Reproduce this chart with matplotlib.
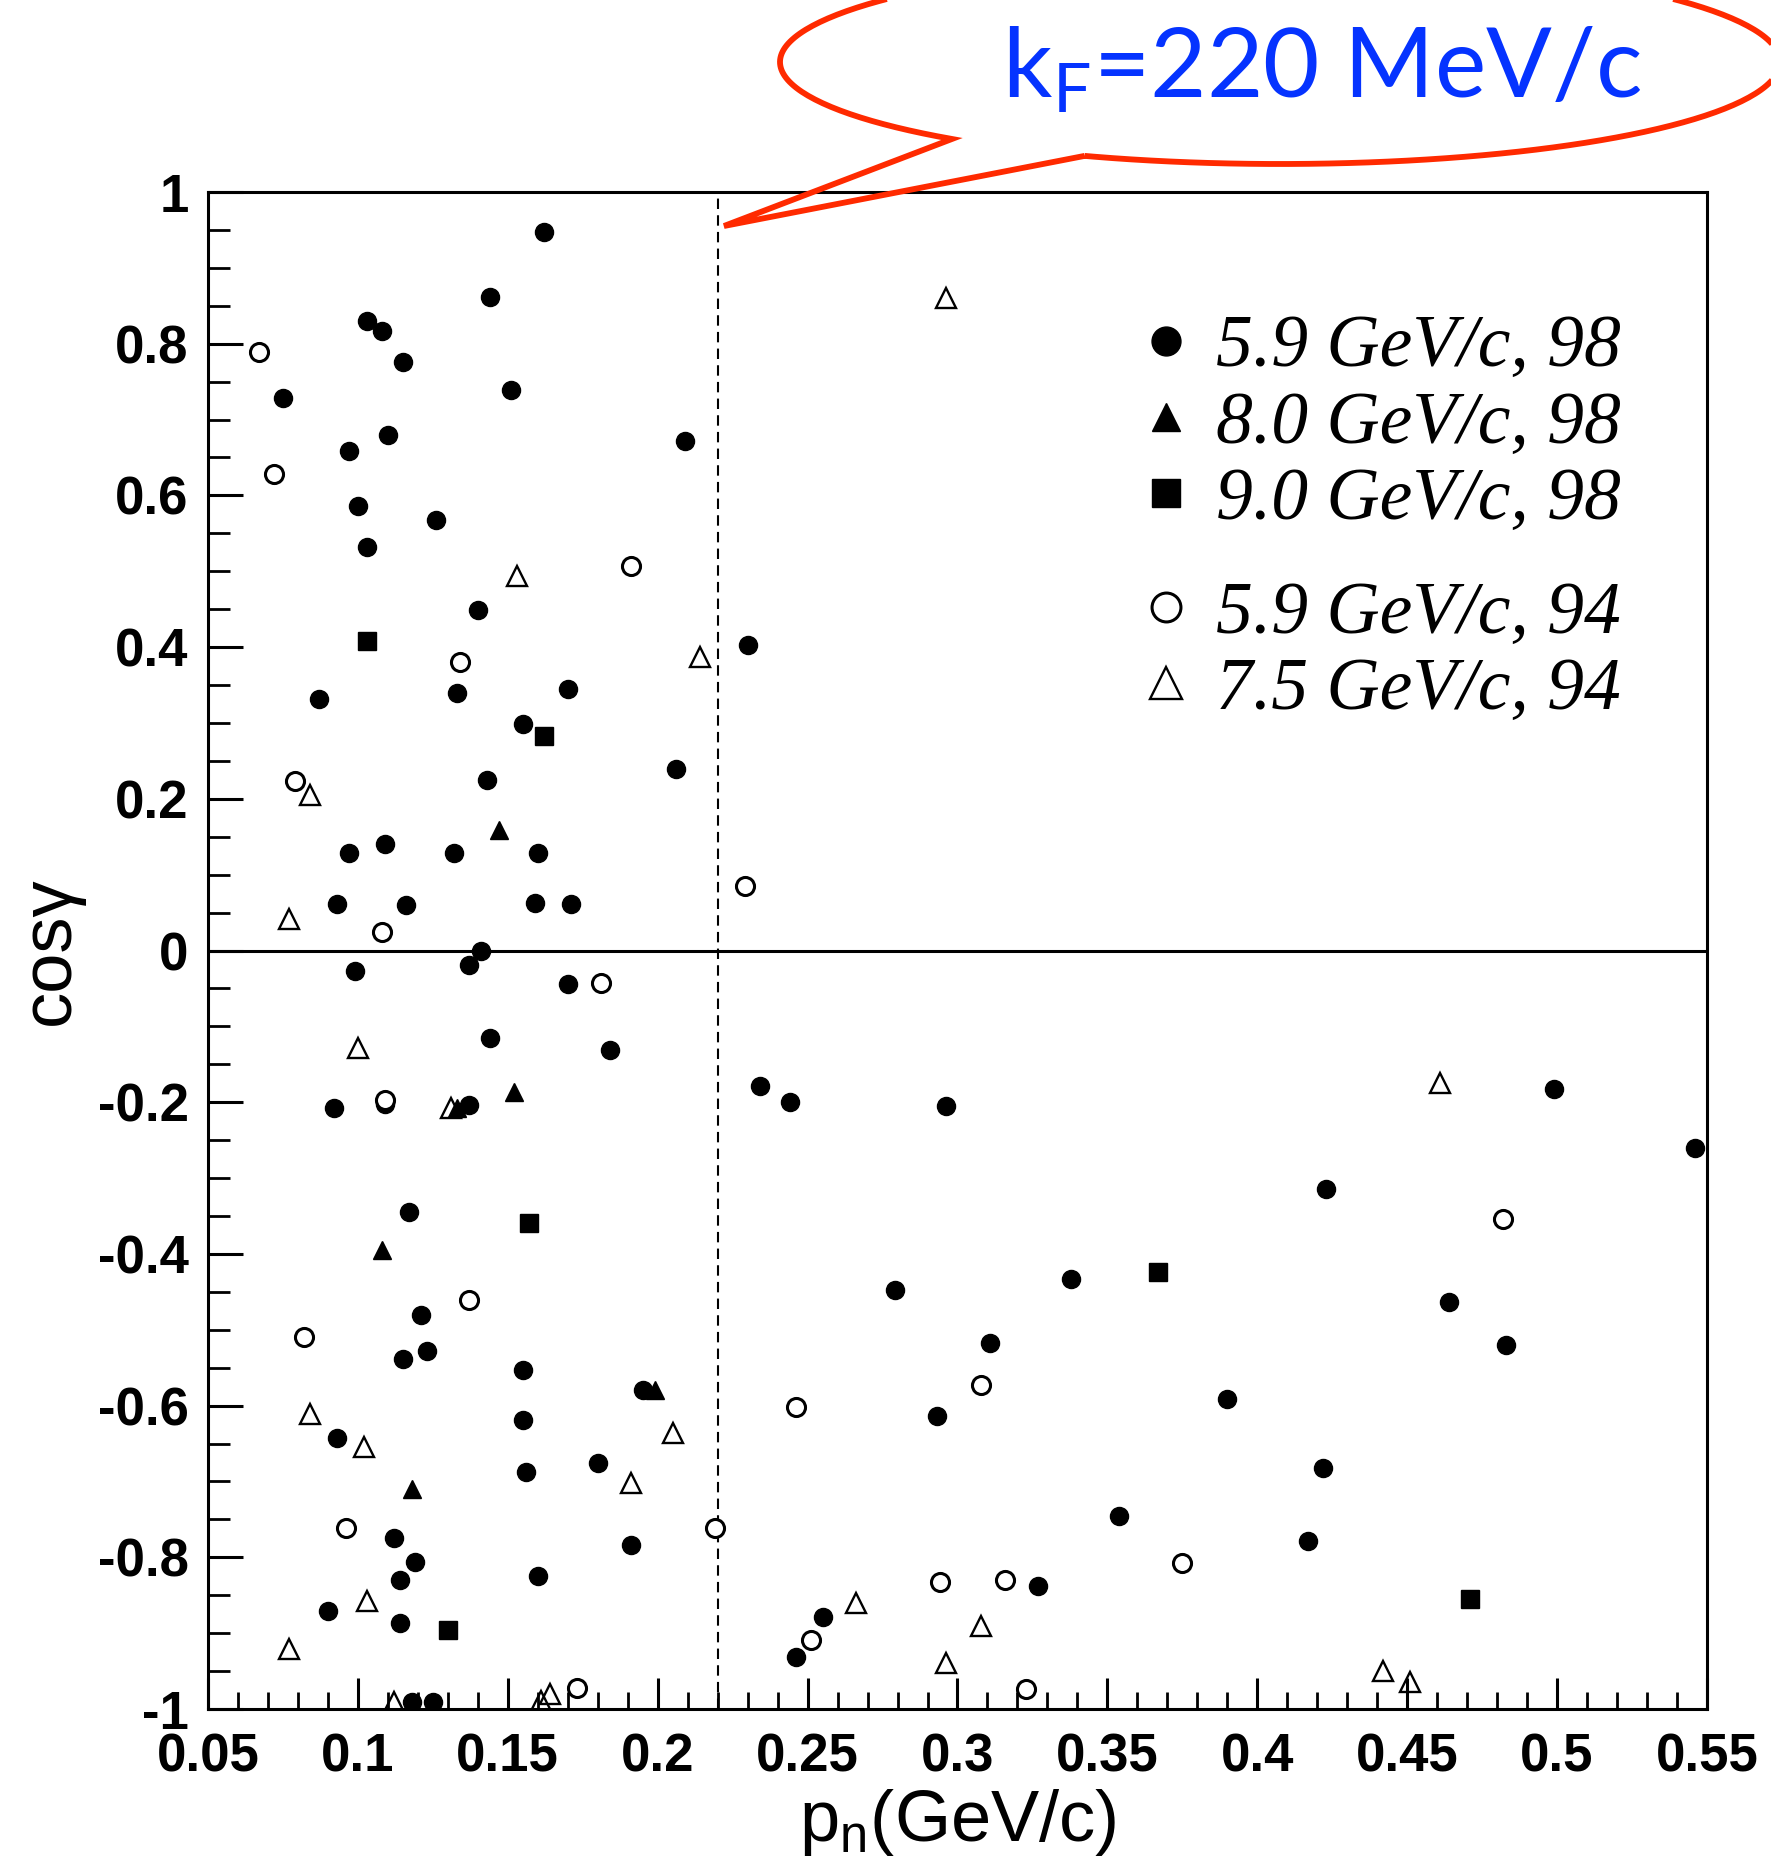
import numpy as np
import matplotlib
matplotlib.use("Agg")
import matplotlib.pyplot as plt
from matplotlib.path import Path
from matplotlib.patches import PathPatch
from matplotlib.font_manager import FontProperties

# ---------------- data ----------------
# 5.9 GeV/c, 98 (filled circles)
c98_x = [0.162, 0.144, 0.103, 0.108, 0.115, 0.151, 0.075, 0.097, 0.110, 0.209,
         0.100, 0.126, 0.103, 0.140, 0.230, 0.087, 0.133, 0.170, 0.155, 0.206,
         0.143, 0.097, 0.109, 0.132, 0.160, 0.093, 0.116, 0.159, 0.171, 0.141,
         0.137, 0.099, 0.170, 0.144, 0.184, 0.092, 0.109, 0.137, 0.234, 0.244,
         0.296, 0.499, 0.546, 0.423, 0.117, 0.338, 0.279, 0.464, 0.121, 0.311,
         0.483, 0.123, 0.115, 0.155, 0.195, 0.390, 0.155, 0.293, 0.093, 0.180,
         0.422, 0.156, 0.354, 0.112, 0.417, 0.191, 0.119, 0.114, 0.327, 0.160,
         0.090, 0.255, 0.114, 0.246, 0.118, 0.125]
c98_y = [0.947, 0.861, 0.830, 0.817, 0.776, 0.739, 0.728, 0.658, 0.679, 0.672,
         0.586, 0.567, 0.532, 0.449, 0.403, 0.332, 0.339, 0.345, 0.298, 0.239,
         0.225, 0.129, 0.140, 0.129, 0.128, 0.061, 0.060, 0.063, 0.061, 0.000,
         -0.019, -0.027, -0.044, -0.115, -0.131, -0.208, -0.203, -0.204, -0.178, -0.200,
         -0.205, -0.183, -0.260, -0.315, -0.345, -0.433, -0.447, -0.463, -0.480, -0.517,
         -0.520, -0.528, -0.539, -0.553, -0.580, -0.591, -0.619, -0.614, -0.643, -0.676,
         -0.682, -0.688, -0.746, -0.775, -0.778, -0.784, -0.806, -0.830, -0.838, -0.825,
         -0.871, -0.879, -0.887, -0.932, -0.991, -0.991]

# 8.0 GeV/c, 98 (filled triangles)
t98_x = [0.147, 0.152, 0.133, 0.108, 0.199, 0.118]
t98_y = [0.159, -0.187, -0.207, -0.395, -0.580, -0.710]

# 9.0 GeV/c, 98 (filled squares)
s98_x = [0.103, 0.162, 0.157, 0.367, 0.130, 0.471]
s98_y = [0.408, 0.283, -0.359, -0.424, -0.896, -0.855]

# 5.9 GeV/c, 94 (open circles)
c94_x = [0.067, 0.072, 0.191, 0.134, 0.079, 0.229, 0.108, 0.181, 0.109, 0.137,
         0.082, 0.246, 0.308, 0.096, 0.219, 0.375, 0.294, 0.316, 0.251, 0.482,
         0.173, 0.323]
c94_y = [0.789, 0.628, 0.507, 0.381, 0.224, 0.085, 0.025, -0.043, -0.197, -0.461,
         -0.510, -0.602, -0.573, -0.761, -0.762, -0.808, -0.833, -0.830, -0.909, -0.354,
         -0.972, -0.973]

# 7.5 GeV/c, 94 (open triangles)
t94_x = [0.296, 0.153, 0.214, 0.084, 0.077, 0.100, 0.131, 0.461, 0.205, 0.191,
         0.084, 0.102, 0.103, 0.266, 0.077, 0.308, 0.296, 0.442, 0.451, 0.164,
         0.161, 0.112]
t94_y = [0.860, 0.494, 0.387, 0.205, 0.041, -0.129, -0.207, -0.175, -0.636, -0.702,
         -0.611, -0.654, -0.857, -0.860, -0.921, -0.890, -0.940, -0.950, -0.964, -0.980,
         -0.990, -0.991]

labels = ["5.9 GeV/c, 98", "8.0 GeV/c, 98", "9.0 GeV/c, 98",
          "5.9 GeV/c, 94", "7.5 GeV/c, 94"]
x_ticks = [0.05, 0.1, 0.15, 0.2, 0.25, 0.3, 0.35, 0.4, 0.45, 0.5, 0.55]
x_ticklabels = ["0.05", "0.1", "0.15", "0.2", "0.25", "0.3", "0.35", "0.4", "0.45", "0.5", "0.55"]
y_ticks = [-1, -0.8, -0.6, -0.4, -0.2, 0, 0.2, 0.4, 0.6, 0.8, 1]
y_ticklabels = ["-1", "-0.8", "-0.6", "-0.4", "-0.2", "0", "0.2", "0.4", "0.6", "0.8", "1"]
kF = 0.22
callout_text = r"k$_{\mathrm{F}}$=220 MeV/c"

# ---------------- style ----------------
plt.rcParams["mathtext.fontset"] = "custom"
plt.rcParams["mathtext.rm"] = "Lato"
plt.rcParams["mathtext.sf"] = "Liberation Sans"

W, H = 1771, 1876
fig = plt.figure(figsize=(W / 100, H / 100), dpi=100)
L, R, T, B = 208, 1707, 192, 1709
ax = fig.add_axes([L / W, 1 - B / H, (R - L) / W, (B - T) / H])

ms = 13
kw_f = dict(ls="none", color="black", ms=ms)
ax.plot(c98_x, c98_y, marker="o", label=labels[0], **kw_f)
ax.plot(t98_x, t98_y, marker="^", label=labels[1], **kw_f)
ax.plot(s98_x, s98_y, marker="s", label=labels[2], color="black", ls="none", ms=12.5)
ax.plot(c94_x, c94_y, marker="o", ls="none", mfc="white", mec="black", mew=2.2, ms=13,
        label=labels[3])
ax.plot(t94_x, t94_y, marker="^", ls="none", mfc="none", mec="black", mew=1.7, ms=14,
        label=labels[4])

ax.axhline(0, color="black", lw=2.2, zorder=1)
ax.axvline(kF, color="black", lw=1.5, ls=(0, (5, 3)), zorder=1)

ax.set_xlim(0.05, 0.55)
ax.set_ylim(-1, 1)
ax.set_xticks(x_ticks)
ax.set_xticklabels(x_ticklabels)
ax.set_yticks(y_ticks)
ax.set_yticklabels(y_ticklabels)
ax.set_xticks(np.arange(0.05, 0.5501, 0.01), minor=True)
ax.set_yticks(np.arange(-1, 1.001, 0.05), minor=True)

tickfp = FontProperties(family="Liberation Sans", weight="bold", size=38)
for lab in ax.get_xticklabels() + ax.get_yticklabels():
    lab.set_fontproperties(tickfp)

ax.tick_params(axis="y", which="major", direction="in", length=25, width=2.2, pad=14)
ax.tick_params(axis="y", which="minor", direction="in", length=16, width=2.0)
ax.tick_params(axis="x", which="major", direction="in", length=22, width=2.2, pad=17)
ax.tick_params(axis="x", which="minor", direction="in", length=12, width=2.0)
for sp in ax.spines.values():
    sp.set_linewidth(2.2)

ax.set_xlabel(r"p$_{\mathsf{n}}$(GeV/c)", family="Liberation Sans", fontsize=52, va="center")
ax.xaxis.set_label_coords(0.5, (B - 1822) / (B - T))
ax.set_ylabel("cosγ", family="Liberation Sans", fontsize=52, va="center")
ax.yaxis.set_label_coords((50 - L) / (R - L), 0.5)

# legends (two groups with a gap)
h, l = ax.get_legend_handles_labels()
legfont = dict(family="Liberation Serif", style="italic", size=53)
leg_kw = dict(frameon=False, loc="center left", borderpad=0, borderaxespad=0,
              handlelength=0.8, handletextpad=0.28, labelspacing=0.12,
              markerscale=1.6, prop=legfont)
leg1 = ax.legend(h[:3], l[:3], bbox_to_anchor=((1137 - L) / (R - L), (B - 425) / (B - T)), **leg_kw)
ax.add_artist(leg1)
leg2 = ax.legend(h[3:], l[3:], bbox_to_anchor=((1137 - L) / (R - L), (B - 653) / (B - T)), **leg_kw)

# ---------------- callout bubble (figure pixel overlay) ----------------
ov = fig.add_axes([0, 0, 1, 1], zorder=5)
ov.set_xlim(0, W)
ov.set_ylim(H, 0)
ov.axis("off")
ov.patch.set_alpha(0)

cx, cy, a, b = 1280, 62, 500, 102
t0, t1 = np.deg2rad(131), np.deg2rad(113 + 360)
tt = np.linspace(t0, t1, 300)
ex = cx + a * np.cos(tt)
ey = cy + b * np.sin(tt)
tip = (724, 226)
verts = [(ex[-1], ey[-1]), tip, (ex[0], ey[0])] + list(zip(ex, ey))
codes = [Path.MOVETO] + [Path.LINETO] * (len(verts) - 1)
ov.add_patch(PathPatch(Path(verts, codes), facecolor="none", edgecolor="#ff2a00",
                       lw=4.2, joinstyle="miter", clip_on=False))
ov.text(1322, 97, callout_text, color="#0533ff", fontsize=70, family="Lato",
        ha="center", va="baseline")

fig.savefig("out.png", dpi=100)
